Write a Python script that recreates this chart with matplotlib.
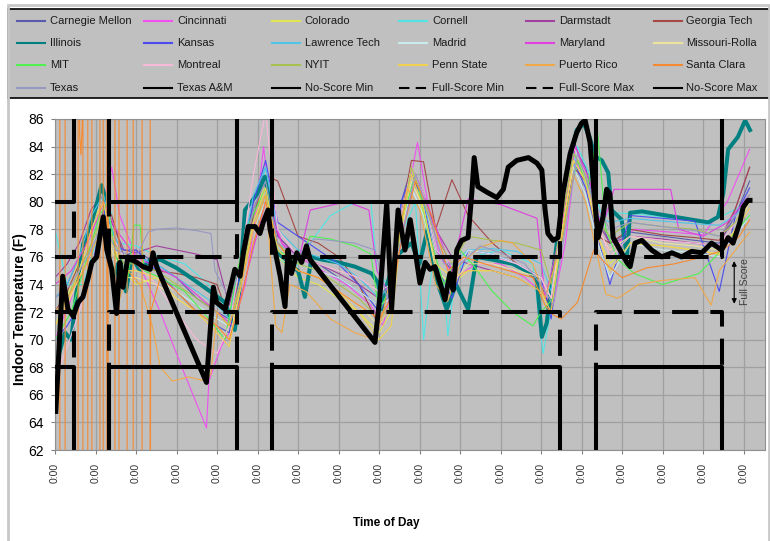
import matplotlib
matplotlib.use("Agg")
import matplotlib.pyplot as plt
from matplotlib.lines import Line2D
from matplotlib.patches import Rectangle

plt.rcParams['font.family'] = ['Liberation Sans', 'DejaVu Sans']

W, H = 770, 541

# ---- data (days since start, indoor temperature in F) ----
t_grid = [0.0, 0.3, 0.6, 0.9, 1.2, 1.4, 1.7, 2.0, 2.5, 3.0,
          3.5, 4.0, 4.3, 4.6, 4.9, 5.2, 5.5, 6.0, 6.5, 7.0,
          7.5, 8.0, 8.3, 8.55, 8.8, 9.1, 9.4, 9.8, 10.2, 10.8,
          11.4, 12.0, 12.25, 12.5, 12.8, 13.1, 13.4, 13.7, 14.2, 15.0,
          15.8, 16.4, 16.8, 17.15]

carnegie = [73, 74, 76, 78, 80, 78, 76, 76.5, 75.5, 74.5,
            73, 72, 71.5, 76, 80, 82.5, 77.5, 76, 75.5, 74.5,
            73.5, 72.5, 73.5, 80, 82.5, 80.5, 76.5, 75, 76, 76,
            75.5, 74.5, 73, 79, 84, 82.5, 79, 77, 77.8, 77.5,
            77.2, 77, 79, 81.5]
colorado = [71, 73, 76, 78.5, 80, 77, 75, 74, 74.5, 73.5,
            72, 71, 70.5, 74.5, 79, 81.5, 76, 74.5, 74, 73,
            72, 70.5, 72, 78.5, 82.5, 79, 75, 74, 75, 75,
            74.5, 73.5, 72, 78, 84, 81.5, 77.5, 75.5, 77, 76.8,
            76.5, 76.2, 78, 80]
darmstadt = [74.5, 75.5, 77, 79.5, 80.5, 78.5, 76.5, 76.3, 76.8, 76.5,
             76.2, 75.8, 72.5, 76, 79.5, 81.5, 77.5, 76, 75.5, 74.8,
             74, 73, 74, 78.5, 81.5, 80.5, 78, 76, 75.5, 75,
             74.5, 73.5, 72.5, 78.5, 84.5, 82, 78.5, 77, 77.5, 77.3,
             77, 76.8, 79.5, 82.5]
georgia = [72, 73.5, 75.5, 78, 80, 79, 76, 75.5, 75, 74.8,
           74.5, 74, 71.5, 75, 79, 81.9, 81.5, 77.5, 77, 76,
           74, 71, 72.5, 79, 83, 82.9, 78, 81.6, 79, 77,
           75.5, 74, 72, 77, 82.5, 81.5, 77.5, 77, 78, 77.6,
           77.4, 77.2, 79.5, 82.5]
kansas = [70, 71, 72.5, 75, 79.5, 77, 76.5, 76.5, 75, 73.5,
          72, 71, 70.5, 75, 80, 83, 78.5, 77.5, 76.5, 75.5,
          74, 72, 73.5, 80, 82, 80, 75.5, 73, 76.5, 76.2,
          75.5, 74.5, 71.5, 77, 83, 81, 77.5, 74, 79, 78.8,
          78.6, 73.5, 79, 81]
lawrence = [73, 74, 76, 79, 80.5, 78, 76, 76, 75.5, 74.5,
            73.5, 72.5, 71.5, 76, 80.5, 82.5, 78, 76.5, 76, 75.5,
            74.5, 73, 74, 79, 81.5, 80, 76.5, 75.5, 76.5, 76.6,
            76.4, 75.5, 73.5, 79, 83.5, 82, 79, 78.5, 78.8, 78.6,
            78.4, 78.3, 79, 80]
madrid = [72, 73, 75, 78, 80, 77, 75, 75, 74.5, 73.5,
          72.5, 71.5, 71, 74.5, 78, 80, 76.5, 75.5, 75, 74.5,
          73.5, 72.5, 73, 78, 81, 79, 75.5, 74.5, 76.5, 76.2,
          75.5, 74.5, 73, 78, 82.5, 80.5, 77, 74.5, 77, 76.5,
          76.3, 76, 77.5, 79]
missouri = [71, 72.5, 74.5, 77, 79, 76.5, 74.5, 74.5, 74, 73,
            72, 71, 70, 74, 78.5, 80.5, 76, 75, 74.5, 73.5,
            72.5, 71, 72.5, 78, 81.5, 79.5, 75, 74, 75.5, 75.5,
            75, 74.5, 73, 77.5, 83, 81.5, 78, 76.5, 77.5, 77,
            76.8, 76.5, 78, 80]
montreal = [67, 69.5, 72, 75, 78, 77.5, 76, 75.5, 74, 72,
            70, 69, 71, 76, 82, 86.5, 78, 76, 75.5, 75,
            74.5, 73.5, 74, 79, 82.5, 80.5, 76.5, 75.5, 76, 76,
            75.5, 74.5, 73, 78.5, 84, 82, 78.5, 76, 77.5, 77.2,
            77, 76.8, 78.5, 80.5]
nyit = [72, 73, 75, 77, 79, 77.5, 75.5, 75.5, 75, 74,
        73, 72, 71, 74.5, 78.5, 80.5, 77, 75.5, 75, 74,
        73, 71.5, 72.5, 78.5, 82.5, 80, 77.5, 75.5, 77.5, 77.2,
        77, 76.5, 74, 78.5, 83.5, 82, 78.5, 77.5, 78.5, 78.2,
        78, 77.5, 78.5, 80.5]
pennstate = [71, 72.5, 75, 78, 80, 77, 75, 75, 74.5, 73,
             72, 70.5, 69.5, 74, 78.5, 81, 76.5, 75, 74.5, 73.5,
             72, 70, 71, 78, 82, 79.5, 75.5, 74.5, 75, 75,
             74.5, 73.5, 72, 77.5, 83, 81.5, 77.5, 75, 77, 76.8,
             76.5, 76.2, 78, 79.5]

t_cin = [0.0, 0.4, 0.8, 1.2, 1.4, 1.6, 2.0, 2.6, 3.2, 3.74,
         3.8, 4.1, 4.4, 4.7, 5.0, 5.15, 5.3, 5.6, 6.0, 6.6,
         7.2, 7.8, 8.1, 8.4, 8.7, 8.95, 9.2, 9.5, 9.9, 10.4,
         11.0, 11.6, 12.0, 12.3, 12.6, 12.85, 13.1, 13.4, 13.7, 14.3,
         15.2, 16.0, 16.6, 17.15]
cincinnati = [70, 73, 77, 80, 82.5, 79, 76, 72, 67.5, 63.6,
              67, 69.5, 71, 74, 80, 84, 80, 77, 76, 75,
              74, 72.5, 71, 75, 80.5, 84.3, 80, 76, 74.5, 75.5,
              75.5, 74.5, 73.5, 72.5, 77, 83, 81.5, 78, 76.5, 78,
              77.8, 77.6, 80, 83.8]

t_mar = [0.0, 0.4, 0.8, 1.2, 1.5, 2.0, 3.0, 4.0, 4.4, 4.8,
         5.2, 5.6, 6.0, 6.3, 7.2, 7.75, 7.95, 8.3, 8.6, 8.9,
         9.3, 9.8, 10.2, 11.0, 11.9, 12.1, 12.5, 12.85, 13.2, 13.5,
         13.8, 15.2, 15.4, 16.0, 16.6, 17.15]
maryland = [74, 75, 77, 80, 78, 76, 74.5, 72, 71, 75.5,
            80, 77, 75.5, 79.4, 80, 79.4, 75, 73, 78, 82,
            79, 75, 80.2, 79.8, 78.8, 73, 78, 84, 81.5, 78,
            80.9, 80.9, 78, 77.5, 78.5, 80.5]

t_cor = [0.0, 0.3, 0.7, 1.0, 1.3, 1.6, 2.0, 2.6, 3.2, 3.8,
         4.3, 4.6, 4.9, 5.2, 5.5, 5.9, 6.3, 6.8, 7.3, 7.8,
         7.95, 8.2, 8.6, 8.9, 9.1, 9.3, 9.6, 9.7, 9.9, 10.3,
         11.0, 11.8, 12.05, 12.3, 12.6, 12.9, 13.2, 13.5, 13.8, 14.4,
         15.3, 16.1, 16.5, 17.15]
cornell = [78, 74, 74, 77, 80, 77, 76.8, 76, 75.5, 74,
           72, 74, 79, 82.5, 76, 75, 77, 79, 79.8, 80,
           75, 74, 78, 80, 70, 75, 74, 70.3, 75, 76,
           76.5, 75.5, 69, 73, 79, 84, 82, 79, 79.2, 79.1,
           78.8, 78.6, 79, 80]

t_mit = [0.0, 0.4, 0.8, 1.1, 1.3, 1.5, 1.8, 1.95, 2.1, 2.2,
         2.6, 3.2, 3.8, 4.2, 4.5, 4.8, 5.2, 5.5, 6.0, 6.3,
         6.8, 7.4, 7.8, 8.0, 8.3, 8.6, 8.9, 9.2, 9.6, 10.0,
         10.3, 10.8, 11.3, 11.8, 12.0, 12.3, 12.6, 12.9, 13.15, 13.4,
         13.6, 13.9, 14.3, 15.0, 15.9, 16.3, 16.7, 17.15]
mit = [70, 72, 76, 79, 80, 76, 74.5, 78.3, 78.3, 75,
       74.5, 73.5, 71.5, 70, 75, 78.5, 81, 76.5, 75.5, 77.5,
       77.3, 76.8, 76.2, 72, 74, 79, 82, 78, 74, 76.5,
       75.5, 73.5, 72, 71, 72, 73, 79, 83, 81, 85,
       78, 75.8, 74.8, 74, 74.8, 76, 77.5, 79]

t_pr = [0.0, 0.3, 0.7, 1.0, 1.3, 1.5, 1.8, 2.1, 2.4, 2.6,
        2.9, 3.3, 3.7, 3.85, 4.0, 4.3, 4.6, 4.9, 5.2, 5.45,
        5.6, 5.8, 6.2, 6.8, 7.4, 7.9, 8.1, 8.4, 8.7, 9.0,
        9.4, 9.7, 10.0, 10.5, 11.0, 11.3, 11.8, 12.1, 12.5, 12.8,
        13.1, 13.4, 13.6, 13.9, 14.4, 15.0, 15.8, 16.2, 16.4, 16.8,
        17.15]
puerto_rico = [72, 73, 75, 77, 79, 72, 75, 74, 71, 68,
               67, 67.3, 67, 67.5, 72, 71, 74, 78, 80.5, 71,
               70.5, 74, 73.5, 71.5, 70.5, 70, 72, 76, 81, 79.5,
               74, 72.8, 75.5, 76.7, 77.2, 77, 75.5, 73, 77, 82,
               80, 76, 73.3, 73, 74, 74.3, 74.5, 72.5, 75, 76.5,
               77.8]

# Santa Clara: sensor dropouts (full-height spikes) during the first days
sc_spike_times = [0.12, 0.25, 0.57, 0.69, 0.81, 0.91, 1.11, 1.19, 1.28, 1.31,
                  1.48, 1.58, 1.78, 1.93, 2.15, 2.35]
sc_top_t = [0.61, 0.64, 0.67]
sc_top_v = [84.8, 83.4, 85.5]
t_sc = [2.36, 2.6, 3.0, 3.5, 4.0, 4.3, 4.6, 4.9, 5.2, 5.5,
        6.0, 6.5, 7.0, 7.5, 8.0, 8.3, 8.6, 8.9, 9.3, 9.7,
        10.1, 10.6, 11.2, 11.8, 12.1, 12.3, 12.5, 12.9, 13.3, 13.6,
        14.0, 14.6, 15.3, 16.0, 16.5, 16.9, 17.15]
santa_clara = [72, 74.5, 73.5, 72, 71, 70, 73, 77, 80, 77,
               75, 74.5, 73.5, 72.5, 71.5, 73, 78, 81.5, 79, 75,
               76, 75.5, 75, 74.5, 72.5, 71.8, 71.5, 72.7, 76.5, 75.5,
               74.5, 75.2, 75.5, 76, 76.5, 77.5, 78.7]

t_tx = [0.0, 0.4, 0.8, 1.2, 1.5, 2.0, 2.3, 2.5, 3.0, 3.5,
        3.85, 3.95, 4.3, 4.6, 4.9, 5.2, 5.5, 6.0, 6.4, 6.8,
        7.4, 7.9, 8.2, 8.6, 8.9, 9.2, 9.6, 10.0, 10.5, 11.0,
        11.6, 12.0, 12.3, 12.6, 12.9, 13.3, 13.7, 14.2, 15.0, 15.8,
        16.4, 16.8, 17.15]
texas = [73, 74, 76, 78.5, 76.5, 76, 77.8, 78, 78.1, 77.9,
         77.7, 75, 73, 75.5, 79.5, 81.5, 77, 76, 77.3, 77.2,
         77, 76.5, 73, 78, 82, 79.5, 75.5, 75.5, 76.8, 76.3,
         75.5, 74, 72.5, 78, 83.5, 80, 78, 78.5, 78.2, 77.9,
         77.5, 79, 80.5]

t_il = [0.0, 0.1, 0.25, 0.4, 0.55, 0.7, 0.85, 1.0, 1.15, 1.22,
        1.31, 1.45, 1.6, 1.75, 1.9, 2.1, 2.35, 2.6, 3.0, 3.4,
        3.83, 4.2, 4.44, 4.55, 4.69, 4.85, 5.0, 5.18, 5.3, 5.43,
        5.6, 5.84, 6.0, 6.17, 6.34, 6.6, 7.0, 7.4, 7.82, 7.98,
        8.07, 8.2, 8.4, 8.6, 8.8, 9.0, 9.2, 9.4, 9.67, 9.9,
        10.2, 10.41, 10.8, 11.3, 11.89, 12.02, 12.14, 12.39, 12.63, 12.88,
        13.05, 13.2, 13.33, 13.5, 13.66, 13.74, 13.99, 14.12, 14.2, 14.49,
        15.31, 16.13, 16.37, 16.5, 16.62, 16.86, 17.04, 17.16]
illinois = [66, 69, 70.5, 70, 74, 77, 78, 79.5, 81.2, 80.5,
            76.5, 74.5, 76, 73.5, 76, 75, 75.8, 75.8, 75.2, 74.4,
            73.5, 72.7, 70.7, 73.5, 79.4, 80, 80.6, 81.8, 80, 76.5,
            76, 75.3, 75, 73.1, 76, 75.8, 75.6, 75.3, 74.8, 74.1,
            72.2, 74, 76, 76.5, 77, 75.5, 78, 74.5, 72.2, 74,
            72.2, 76, 75.8, 75.5, 74.6, 70.2, 71.2, 77, 81.8, 85.2,
            85.7, 84.7, 83.3, 83.0, 82.1, 79.4, 78.7, 76, 79.2, 79.3,
            78.9, 78.5, 78.9, 80.6, 83.8, 84.7, 85.9, 85.2]

t_tam = [0.02, 0.19, 0.32, 0.45, 0.57, 0.69, 0.82, 0.91, 1.03, 1.11,
         1.19, 1.28, 1.40, 1.52, 1.60, 1.68, 1.80, 1.89, 2.02, 2.17,
         2.35, 2.42, 2.51, 3.74, 3.91, 3.99, 4.2, 4.36, 4.44, 4.57,
         4.65, 4.77, 4.94, 5.06, 5.14, 5.26, 5.31, 5.43, 5.56, 5.68,
         5.75, 5.84, 5.97, 6.09, 6.21, 6.3, 7.90, 8.02, 8.19, 8.31,
         8.47, 8.64, 8.77, 8.89, 9.01, 9.14, 9.26, 9.38, 9.51, 9.63,
         9.75, 9.83, 9.92, 10.04, 10.2, 10.29, 10.35, 10.44, 10.66, 10.91,
         11.07, 11.19, 11.4, 11.69, 11.9, 12.02, 12.1, 12.17, 12.3, 12.42,
         12.54, 12.72, 12.88, 13.0, 13.09, 13.21, 13.33, 13.41, 13.53, 13.62,
         13.7, 13.78, 13.95, 14.12, 14.2, 14.32, 14.49, 14.73, 14.98, 15.23,
         15.47, 15.72, 15.97, 16.21, 16.46, 16.62, 16.74, 16.91, 16.99, 17.11,
         17.16]
texas_am = [64.8, 74.6, 72.2, 71.7, 72.7, 73.1, 74.5, 75.6, 76.0, 77.5,
            78.9, 76.5, 75.1, 71.9, 75.6, 73.8, 76.0, 75.8, 75.6, 75.3,
            75.1, 76.3, 75.3, 66.9, 73.8, 72.7, 72.2, 74.1, 75.1, 74.6,
            76.3, 78.2, 78.2, 77.7, 78.5, 79.4, 78.0, 76.5, 74.6, 72.4,
            76.5, 74.8, 76.3, 75.6, 76.8, 75.8, 69.8, 73.1, 79.9, 72.2,
            79.4, 76.5, 78.7, 76.5, 74.1, 75.6, 75.1, 75.3, 74.1, 72.9,
            74.8, 73.6, 76.5, 77.2, 77.4, 80.6, 83.2, 81.1, 80.7, 80.3,
            80.9, 82.5, 83.0, 83.2, 82.8, 82.3, 79.4, 77.7, 77.2, 77.4,
            80.6, 83.5, 85.0, 85.7, 85.9, 84.3, 79.9, 77.4, 78.9, 80.9,
            80.6, 77.4, 76.5, 75.6, 75.3, 77.0, 77.2, 76.5, 76.0, 76.3,
            76.0, 76.4, 76.3, 77.0, 76.5, 77.4, 77.0, 78.5, 79.6, 80.1,
            80.1]

# scored periods and temperature limits
score_windows = [(0.0, 0.47), (1.34, 4.49), (5.35, 12.47), (13.35, 16.46)]
t_end = 17.2
no_score_min, full_score_min, full_score_max, no_score_max = 68, 72, 76, 80

tick_labels = ["0:00"] * 18

# ---- build the Santa Clara trace (spikes are off-scale readings) ----
LOW, HIGH = 30, 110
sc_t, sc_v = [0.0], [LOW]
state = LOW
for i, s in enumerate(sc_spike_times):
    other = HIGH if state == LOW else LOW
    sc_t += [s, s]
    sc_v += [state, other]
    state = other
    nxt = sc_spike_times[i + 1] if i + 1 < len(sc_spike_times) else 99
    if state == HIGH:
        for tt, vv in zip(sc_top_t, sc_top_v):
            if s < tt < nxt:
                sc_t.append(tt)
                sc_v.append(vv)
sc_t += t_sc
sc_v += santa_clara


def limit_line(level, off):
    ts, vs = [], []
    for a, b in score_windows:
        if a > 0:
            ts += [a]
            vs += [off]
        ts += [a, b, b]
        vs += [level, level, off]
    ts.append(t_end)
    vs.append(off)
    return ts, vs


schools = [
    ("Carnegie Mellon", t_grid, carnegie, "#5c5cae"),
    ("Cincinnati", t_cin, cincinnati, "#f050f0"),
    ("Colorado", t_grid, colorado, "#e4e450"),
    ("Cornell", t_cor, cornell, "#50e4e4"),
    ("Darmstadt", t_grid, darmstadt, "#a040a0"),
    ("Georgia Tech", t_grid, georgia, "#a44848"),
    ("Illinois", t_il, illinois, "#008080"),
    ("Kansas", t_grid, kansas, "#4c4cf0"),
    ("Lawrence Tech", t_grid, lawrence, "#50c4e8"),
    ("Madrid", t_grid, madrid, "#c8ecec"),
    ("Maryland", t_mar, maryland, "#e040e0"),
    ("Missouri-Rolla", t_grid, missouri, "#ece49c"),
    ("MIT", t_mit, mit, "#50f050"),
    ("Montreal", t_grid, montreal, "#f8b8d8"),
    ("NYIT", t_grid, nyit, "#a8c050"),
    ("Penn State", t_grid, pennstate, "#f0d050"),
    ("Puerto Rico", t_pr, puerto_rico, "#f0a848"),
    ("Santa Clara", sc_t, sc_v, "#f58a30"),
    ("Texas", t_tx, texas, "#9898c4"),
]

fig = plt.figure(figsize=(W / 100, H / 100), dpi=100)
fig.patch.set_facecolor("white")
fig.add_artist(Rectangle((8 / W, -0.1), 761 / W, 1.1 - 5 / H, transform=fig.transFigure,
                         fill=False, edgecolor="#c8c8c8", lw=2))

ax = fig.add_axes([55 / W, 1 - 450 / H, 710 / W, 331 / H])
ax.set_facecolor("#c0c0c0")

for name, ts, vs, col in schools:
    lw = 2.9 if name == "Illinois" else 0.8
    ax.plot(ts, vs, color=col, lw=lw, zorder=2)
ax.plot(t_tam, texas_am, color="black", lw=3.6, zorder=3)

dash = (6.5, 3)
ts, vs = limit_line(no_score_min, LOW)
ax.plot(ts, vs, color="black", lw=2.9, zorder=4)
ts, vs = limit_line(full_score_min, LOW)
ax.plot(ts, vs, color="black", lw=2.9, dashes=dash, zorder=4)
ts, vs = limit_line(full_score_max, HIGH)
ax.plot(ts, vs, color="black", lw=2.9, dashes=dash, zorder=4)
ts, vs = limit_line(no_score_max, HIGH)
ax.plot(ts, vs, color="black", lw=2.9, zorder=4)

ax.set_xlim(0, 17.53)
ax.set_ylim(62, 86)
ax.set_xticks(range(len(tick_labels)))
ax.set_xticklabels(tick_labels, rotation=90, fontsize=7.5, color="#333333")
ax.set_yticks(range(62, 87, 2))
ax.tick_params(axis="y", labelsize=10, length=3, pad=5, color="#808080")
ax.tick_params(axis="x", length=3, pad=6.5, color="#808080")
ax.grid(True, color="#a0a0a0", lw=0.9)
ax.set_axisbelow(True)
for sp in ax.spines.values():
    sp.set_color("#909090")
    sp.set_linewidth(0.8)

ax.annotate("", xy=(16.77, 72.4), xytext=(16.77, 75.9),
            arrowprops=dict(arrowstyle="<|-|>", color="black", lw=0.8, mutation_scale=7))
ax.text(17.04, 74.2, "Full Score", rotation=90, fontsize=7.5, color="#404040",
        ha="center", va="center")

fig.text(386 / W, 1 - 523 / H, "Time of Day", ha="center", va="center",
         fontsize=8.5, fontweight="bold")
fig.text(20 / W, 1 - 309 / H, "Indoor Temperature (F)", rotation=90, ha="center",
         va="center", fontsize=10, fontweight="bold")

# ---- legend box (6 columns x 4 rows, row-wise order) ----
leg = fig.add_axes([8 / W, 1 - 98 / H, 762 / W, 89 / H])
leg.set_facecolor("#c0c0c0")
leg.set_xlim(0, 762)
leg.set_ylim(89, 0)
leg.set_xticks([])
leg.set_yticks([])
for sp in leg.spines.values():
    sp.set_color("black")
    sp.set_linewidth(1.2)

entries = [(n, c, "-") for n, _, _, c in schools]
entries += [("Texas A&M", "black", "-"), ("No-Score Min", "black", "-"),
            ("Full-Score Min", "black", "--"), ("Full-Score Max", "black", "--"),
            ("No-Score Max", "black", "-")]
for i, (name, col, ls) in enumerate(entries):
    c, r = i % 6, i // 6
    x0 = 9 + c * 127.3
    y0 = 12 + r * 22.2
    if ls == "--":
        leg.plot([x0, x0 + 28], [y0, y0], color=col, lw=1.5, dashes=(5, 3))
    else:
        leg.plot([x0, x0 + 28], [y0, y0], color=col, lw=1.5)
    leg.text(x0 + 33, y0, name, fontsize=8, va="center", ha="left", color="#1a1a1a")

fig.savefig("out.png", dpi=100)
